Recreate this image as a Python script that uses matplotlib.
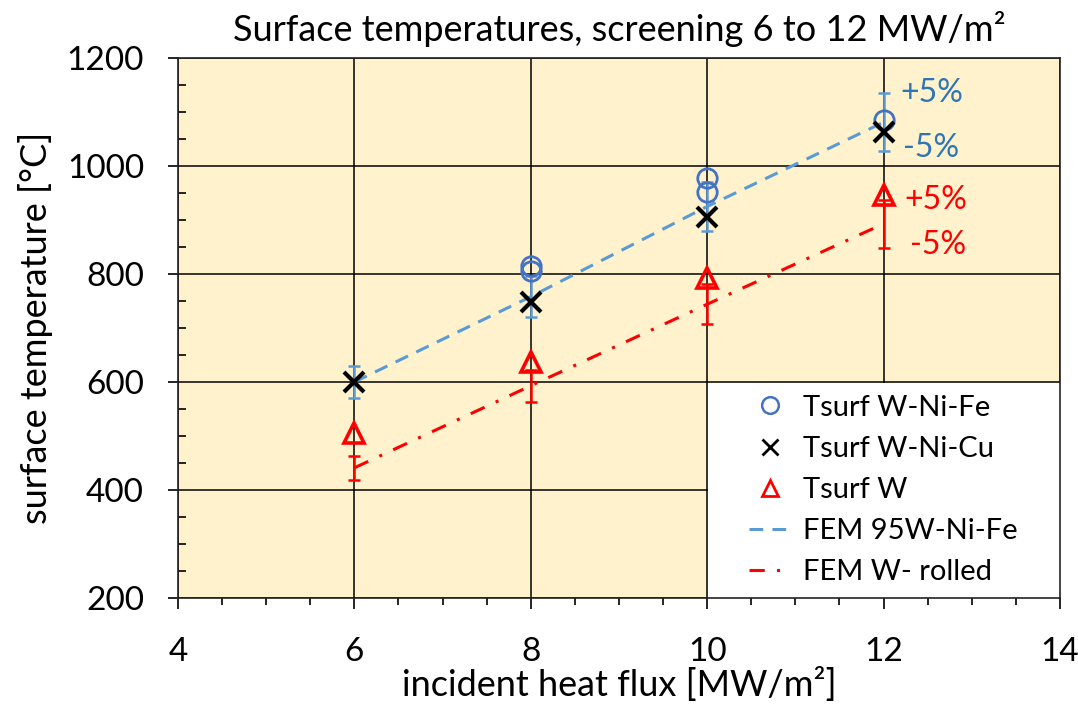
import matplotlib
matplotlib.use("Agg")
import matplotlib.pyplot as plt
from matplotlib.lines import Line2D
from matplotlib.patches import Rectangle
from matplotlib.ticker import MultipleLocator

plt.rcParams['font.family'] = ['Lato', 'DejaVu Sans']

# incident heat flux levels [MW/m²]
heat_flux = [6, 8, 10, 12]

# measured surface temperatures [°C]
wnife_flux = [8, 8, 10, 10, 12]
wnife_temp = [815, 806, 977, 951, 1085]
wnicu_temp = [600, 748, 905, 1063]
w_temp = [505, 637, 792, 946]

# FEM predictions [°C]
fem_wnife = [600, 758, 925, 1081]
fem_w = [441, 593, 744, 893]
tolerance = 0.05

blue_line = '#5B9BD5'
blue_mark = '#4472C4'
blue_text = '#2E75B6'
red = '#FF0000'

fig = plt.figure(figsize=(10.78, 7.08), dpi=100)
ax = fig.add_axes([0.1651, 0.1554, 0.8182, 0.7627])
ax.set_facecolor('#FFF2CC')

ax.set_xlim(4, 14)
ax.set_ylim(200, 1200)
ax.xaxis.set_major_locator(MultipleLocator(2))
ax.xaxis.set_minor_locator(MultipleLocator(0.5))
ax.yaxis.set_major_locator(MultipleLocator(200))
ax.yaxis.set_minor_locator(MultipleLocator(50))
ax.grid(True, which='major', color='black', linewidth=1.1, zorder=1.5)
ax.tick_params(axis='x', which='major', direction='out', length=8, width=1.2,
               labelsize=24, pad=20)
ax.tick_params(axis='x', which='minor', direction='out', length=5, width=1.2)
ax.tick_params(axis='y', which='major', direction='out', length=7.5, width=1.2,
               labelsize=24, pad=17)
ax.tick_params(axis='y', which='minor', direction='in', length=6, width=1.2)
for side in ax.spines.values():
    side.set_color('#222222')
    side.set_linewidth(1.2)

# white panel behind the legend in the lower right cell block
ax.add_patch(Rectangle((10.012, 200), 3.988, 397.3, facecolor='white',
                       edgecolor='none', zorder=1.6))

# FEM curves with ±5 % bands
ax.plot(heat_flux, fem_wnife, color=blue_line, linewidth=2.2,
        dashes=(4.5, 3), zorder=2)
ax.plot(heat_flux, fem_w, color=red, linewidth=2.2,
        dashes=(5, 4, 1, 4), zorder=2)
ax.errorbar(heat_flux, fem_wnife, yerr=[v * tolerance for v in fem_wnife],
            fmt='none', ecolor=blue_line, elinewidth=1.8, capsize=4,
            capthick=1.8, zorder=2.5)
ax.errorbar(heat_flux, fem_w, yerr=[v * tolerance for v in fem_w],
            fmt='none', ecolor=red, elinewidth=1.8, capsize=4,
            capthick=1.8, zorder=2.5)

# measurements
ax.plot(wnife_flux, wnife_temp, linestyle='none', marker='o', markersize=14,
        markerfacecolor='none', markeredgecolor=blue_mark,
        markeredgewidth=2.0, zorder=3)
ax.plot(heat_flux, wnicu_temp, linestyle='none', marker='x', markersize=15,
        color='black', markeredgewidth=3.0, zorder=3.2)
ax.plot(heat_flux, w_temp, linestyle='none', marker='^', markersize=15,
        markerfacecolor='none', markeredgecolor=red,
        markeredgewidth=2.6, zorder=3.1)

# tolerance annotations
ax.text(12.19, 1135, '+5%', color=blue_text, fontsize=23,
        ha='left', va='center')
ax.text(12.22, 1033, '-5%', color=blue_text, fontsize=23,
        ha='left', va='center')
ax.text(12.24, 937, '+5%', color=red, fontsize=23, ha='left', va='center')
ax.text(12.30, 854, '-5%', color=red, fontsize=23, ha='left', va='center')

ax.set_title('Surface temperatures, screening 6 to 12 MW/m²', fontsize=26,
             pad=12)
ax.set_xlabel('incident heat flux [MW/m²]', fontsize=26, labelpad=0)
ax.set_ylabel('surface temperature [°C]', fontsize=26, labelpad=10)

handles = [
    Line2D([], [], linestyle='none', marker='o', markersize=12,
           markerfacecolor='none', markeredgecolor=blue_mark,
           markeredgewidth=1.8),
    Line2D([], [], linestyle='none', marker='x', markersize=12,
           color='black', markeredgewidth=2.0),
    Line2D([], [], linestyle='none', marker='^', markersize=12,
           markerfacecolor='none', markeredgecolor=red, markeredgewidth=2.0),
    Line2D([], [], color=blue_line, linewidth=2.2, dashes=(4.5, 3)),
    Line2D([], [], color=red, linewidth=2.2, dashes=(5, 4, 1, 4)),
]
labels = ['Tsurf W-Ni-Fe', 'Tsurf W-Ni-Cu', 'Tsurf W', 'FEM 95W-Ni-Fe',
          'FEM W- rolled']
leg = ax.legend(handles, labels, loc='center',
                bbox_to_anchor=(10, 200, 4, 400),
                bbox_transform=ax.transData, frameon=False, fontsize=21,
                handlelength=1.4, handletextpad=0.45, labelspacing=0.52)
leg.set_zorder(4)

fig.savefig('out.png', dpi=100)
